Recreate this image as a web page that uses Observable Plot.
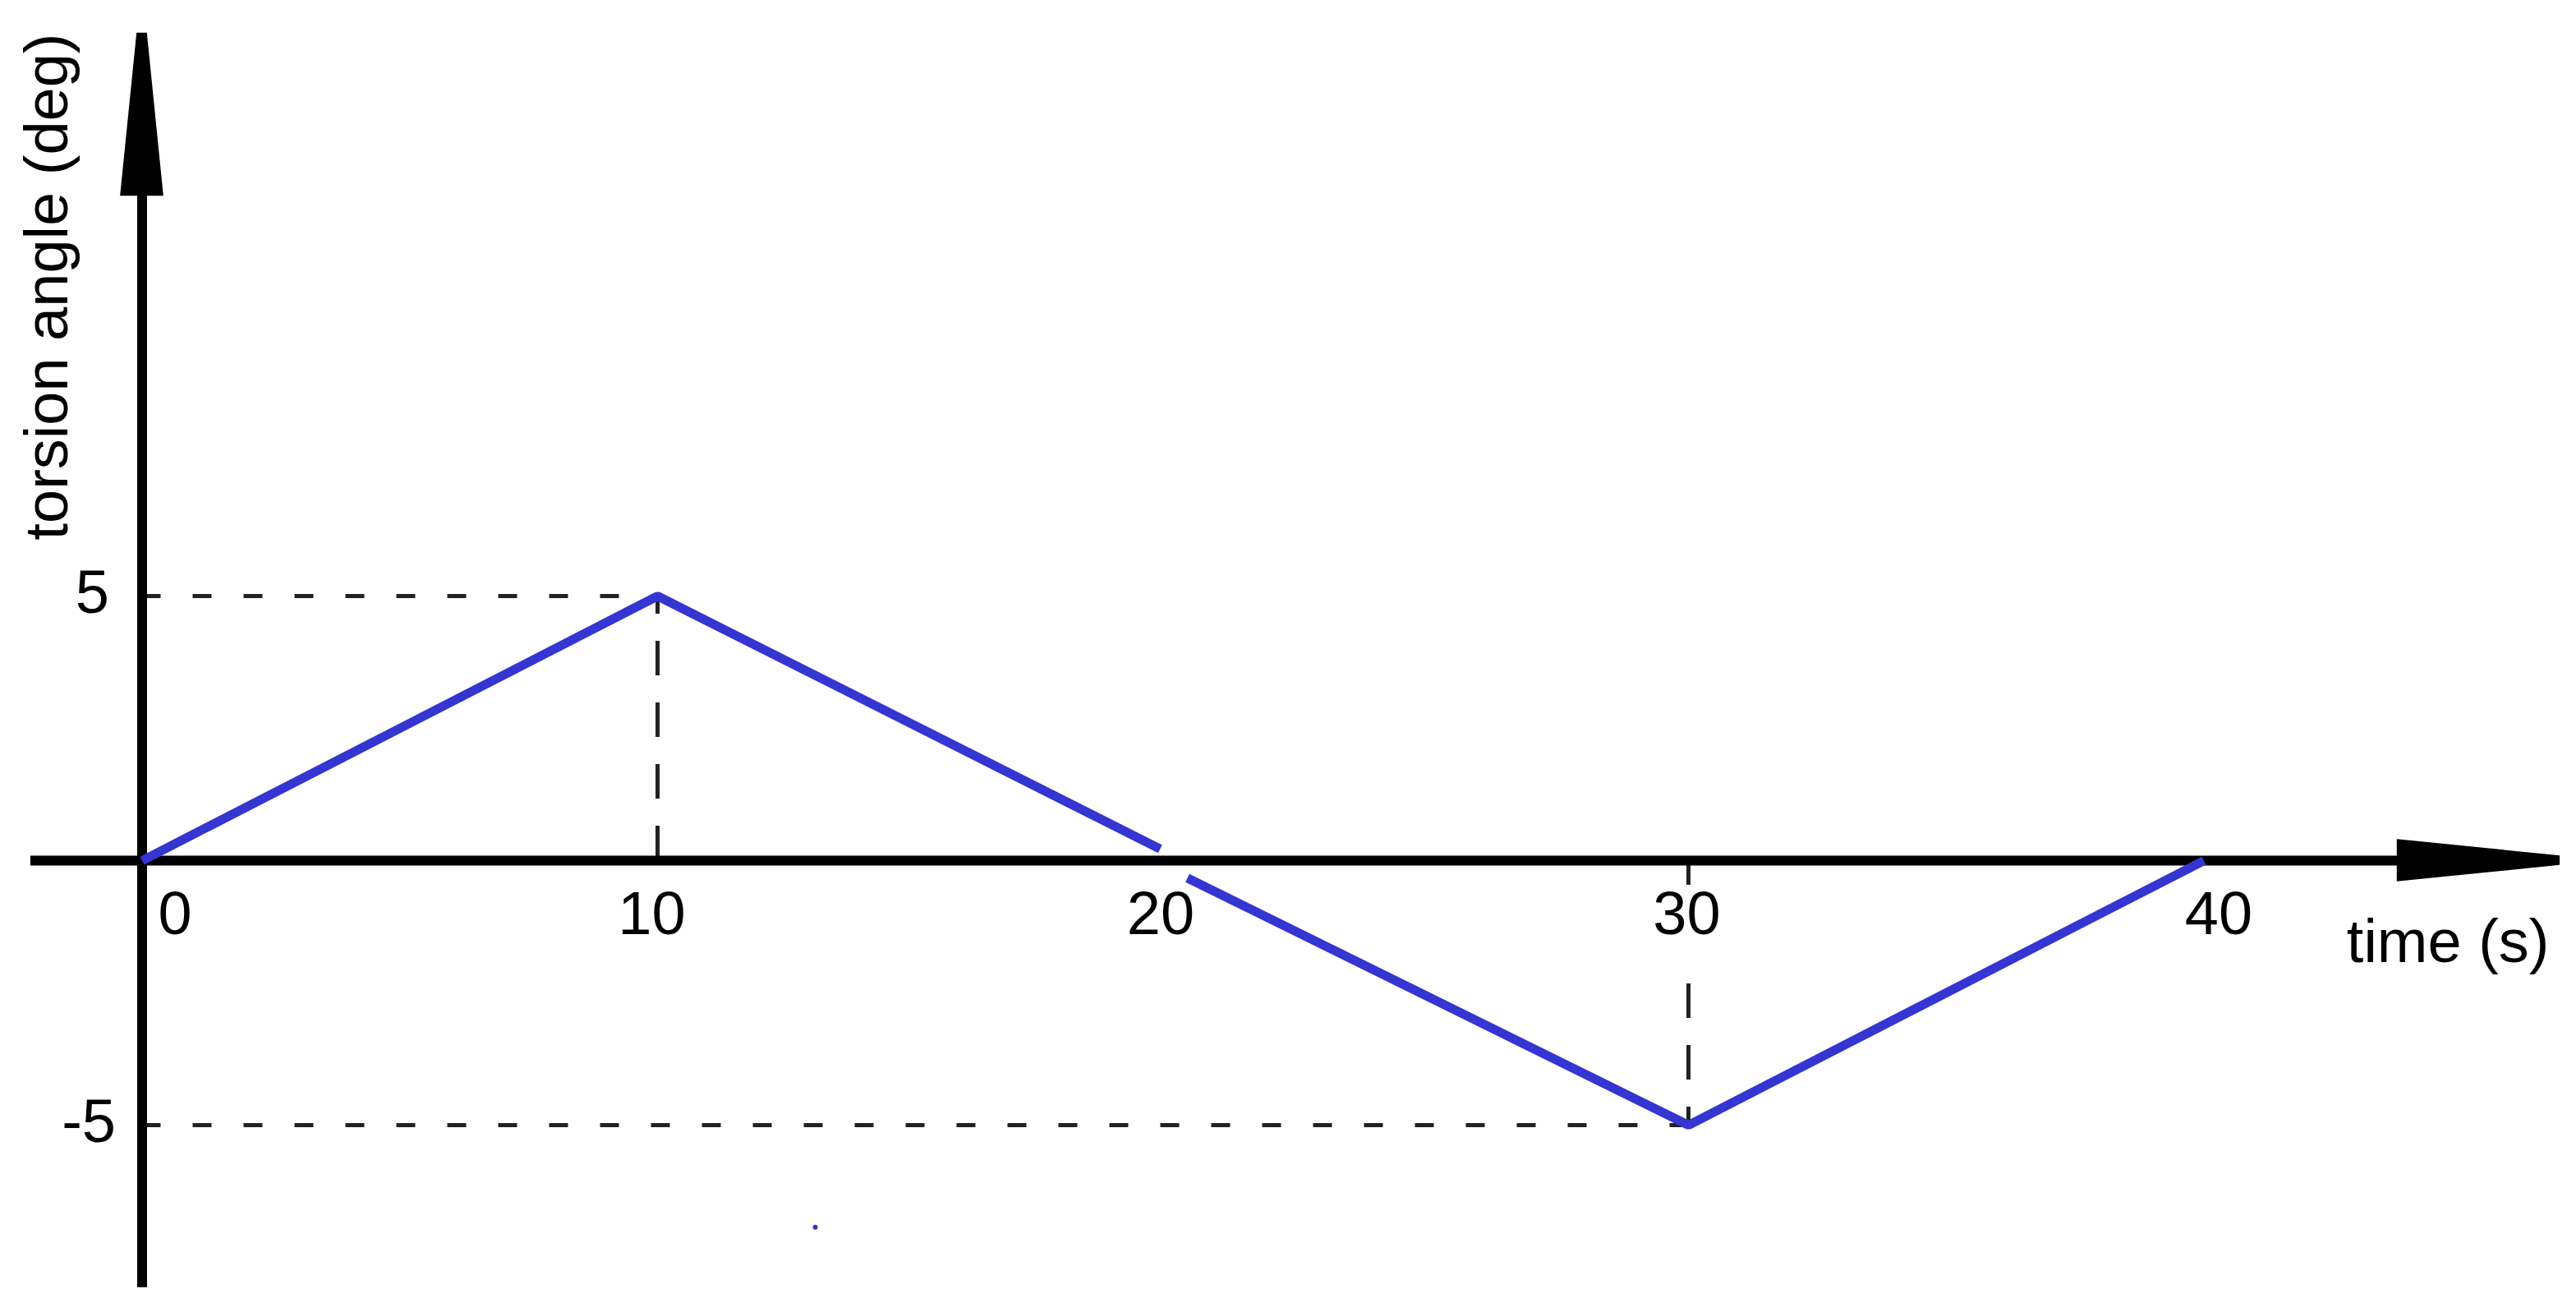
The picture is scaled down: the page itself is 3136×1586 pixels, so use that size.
<!DOCTYPE html>
<html>
<head>
<meta charset="utf-8">
<script src="https://cdn.jsdelivr.net/npm/d3@7"></script>
<script src="https://cdn.jsdelivr.net/npm/@observablehq/plot@0.6"></script>
<style>
  html, body { margin: 0; padding: 0; background: #fff; }
  svg { display: block; }
</style>
</head>
<body>
<div id="chart"></div>
<script>
// ---- data ----
const rampTime  = [0, 10, 19.75];          // first half (rise then fall to ~0)
const rampAngle = [0, 5, 0.22];
const fallTime  = [20.28, 30, 40];         // second half (fall to -5 then back)
const fallAngle = [-0.33, -5, 0];
const peakTimes  = [10, 30];               // guide lines
const peakAngles = [5, -5];
const xTicks = [0, 10, 20, 30, 40];
const yTicks = [5, -5];
const strayTime = [13.06];                 // tiny stray blue pixel
const strayAngle = [-6.93];
const xLabel = "time (s)";
const yLabel = "torsion angle (deg)";

// ---- build tables ----
const seg1 = rampTime.map((t, i) => ({t, a: rampAngle[i]}));
const seg2 = fallTime.map((t, i) => ({t, a: fallAngle[i]}));
const peaks = peakTimes.map((t, i) => ({t, a: peakAngles[i]}));
const stray = strayTime.map((t, i) => ({t, a: strayAngle[i]}));

const blue = "#3535d2";
const font = "'Liberation Sans', Arial, sans-serif";
const fs = 74;

// axis geometry (decorative)
const xAxisStart = -2.16, xArrowBase = 43.75, xArrowTip = 46.91, xArrowHalf = 0.40;
const yAxisStart = -8.07, yArrowBase = 12.56, yArrowTip = 15.64, yArrowHalf = 0.42;

const xTickDx = {0: 40, 10: -7, 20: -15, 30: -2, 40: 18};
const yTickDx = {5: -40, "-5": -32};

const marks = [
  // dashed guides
  Plot.ruleY(peaks, {y: "a", x1: 0, x2: "t", stroke: "#222", strokeWidth: 5, strokeDasharray: "23,39"}),
  Plot.ruleX(peaks, {x: "t", y1: 0, y2: "a", stroke: "#222", strokeWidth: 5, strokeDasharray: "42,33"}),
  // white label boxes under x tick labels (hide guides there)
  Plot.dot(xTicks, {x: d => d, y: 0, dy: 88, symbol: "square", r: 66, fill: "#fff", stroke: null}),
  // axes
  Plot.ruleY([0], {x1: xAxisStart, x2: xArrowBase + 0.5, stroke: "#000", strokeWidth: 12}),
  Plot.ruleX([0], {y1: yAxisStart, y2: yArrowBase + 0.5, stroke: "#000", strokeWidth: 12}),
  Plot.areaY([{x: xArrowBase, lo: -xArrowHalf, hi: xArrowHalf}, {x: xArrowTip, lo: -0.09, hi: 0.09}],
    {x: "x", y1: "lo", y2: "hi", fill: "#000", curve: "linear"}),
  Plot.areaX([{y: yArrowBase, lo: -yArrowHalf, hi: yArrowHalf}, {y: yArrowTip, lo: -0.1, hi: 0.1}],
    {y: "y", x1: "lo", x2: "hi", fill: "#000", curve: "linear"}),
  // data lines
  Plot.line(seg1, {x: "t", y: "a", stroke: blue, strokeWidth: 11, strokeLinecap: "butt", strokeLinejoin: "miter"}),
  Plot.line(seg2, {x: "t", y: "a", stroke: blue, strokeWidth: 11, strokeLinecap: "butt", strokeLinejoin: "miter"}),
  Plot.dot(stray, {x: "t", y: "a", r: 3, fill: blue, stroke: null}),
  // x tick labels
  ...xTicks.map(v => Plot.text([v], {x: d => d, y: 0, text: d => String(d), dx: xTickDx[v], dy: 66,
    fontSize: fs, fill: "#000", textAnchor: "middle", lineAnchor: "middle"})),
  // y tick labels
  ...yTicks.map(v => Plot.text([v], {x: 0, y: d => d, text: d => String(d), dx: yTickDx[v], dy: -3,
    fontSize: fs, fill: "#000", textAnchor: "end", lineAnchor: "middle"})),
  // axis titles
  Plot.text([xLabel], {frameAnchor: "right", y: 0, text: d => d, dx: -33, dy: 100,
    fontSize: fs, fill: "#000", textAnchor: "end", lineAnchor: "middle"}),
  Plot.text([yLabel], {frameAnchor: "top-left", text: d => d, dx: 58, dy: 40, rotate: -90,
    fontSize: fs, fill: "#000", textAnchor: "end", lineAnchor: "middle"})
];

const chart = Plot.plot({
  width: 3136,
  height: 1586,
  margin: 0,
  x: {domain: [-2.749, 47.227], axis: null},
  y: {domain: [-8.369, 16.258], axis: null},
  style: {fontFamily: font, background: "#fff", overflow: "visible"},
  marks
});
document.getElementById("chart").appendChild(chart);
</script>
</body>
</html>
